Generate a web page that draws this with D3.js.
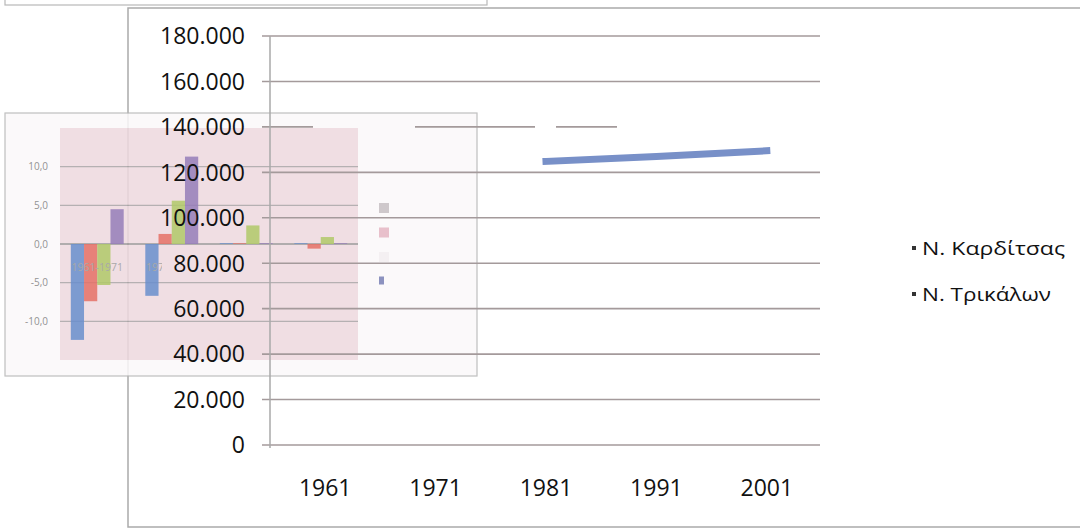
<!DOCTYPE html>
<html>
<head>
<meta charset="utf-8">
<script src="https://cdn.jsdelivr.net/npm/d3@7"></script>
<style>
  html, body { margin: 0; padding: 0; background: #fff; }
  svg { display: block; }
</style>
</head>
<body>
<div id="chart"></div>
<script>
// main chart data
const years = ['1961', '1971', '1981', '1991', '2001'];
const karditsaValues = [null, null, 124800, 127000, 129500];
const legendLabels = ['N. Καρδίτσας', 'N. Τρικάλων'];
const yTicks = [0, 20000, 40000, 60000, 80000, 100000, 120000, 140000, 160000, 180000];

// inset (background) bar chart data
const insetPeriods = ['1961-1971', '1971-1981', '1981-1991', '1991-2001'];
const insetBlue = [-12.4, -6.7, 0.1, 0.1];
const insetRed = [-7.4, 1.3, 0.1, -0.6];
const insetGreen = [-5.3, 5.6, 2.4, 0.9];
const insetPurple = [4.5, 11.3, 0.1, 0.1];
const insetTicks = [-10, -5, 0, 5, 10];

const W = 1080, H = 531;
const svg = d3.select('#chart').append('svg')
    .attr('width', W)
    .attr('height', H);

// Rahmen oben links (anderes Diagramm)
svg.append('rect')
    .attr('x', 5).attr('y', -10)
    .attr('width', 482).attr('height', 15)
    .attr('fill', 'none')
    .attr('stroke', '#b8b8b8')
    .attr('stroke-width', 1.2);

// Rahmen Hauptdiagramm
svg.append('rect')
    .attr('x', 128).attr('y', 8)
    .attr('width', 980).attr('height', 519)
    .attr('fill', '#fff')
    .attr('stroke', '#aaaaaa')
    .attr('stroke-width', 1.5);

// ---------- Inset ----------
const inset = svg.append('g').attr('opacity', 0.85);

inset.append('rect')
    .attr('x', 5).attr('y', 113)
    .attr('width', 472).attr('height', 263)
    .attr('fill', '#fbf9fa')
    .attr('stroke', '#b5b5b5')
    .attr('stroke-width', 1.2);

const ix = d3.scaleBand()
    .domain(insetPeriods)
    .range([60, 358])
    .paddingInner(0.29)
    .paddingOuter(0.145);

const iy = d3.scaleLinear()
    .domain([-15, 15])
    .range([360, 128]);

inset.append('rect')
    .attr('x', 60).attr('y', iy(15))
    .attr('width', 298).attr('height', iy(-15) - iy(15))
    .attr('fill', '#eed9df');

inset.selectAll('.igrid')
    .data(insetTicks)
    .join('line')
    .attr('x1', 60).attr('x2', 358)
    .attr('y1', d => iy(d)).attr('y2', d => iy(d))
    .attr('stroke', d => d === 0 ? '#8a8a8a' : '#a9a3a5')
    .attr('stroke-width', d => d === 0 ? 1.5 : 1.2);

inset.selectAll('.itick')
    .data(insetTicks)
    .join('text')
    .attr('x', 48)
    .attr('y', d => iy(d))
    .attr('dy', '0.35em')
    .attr('text-anchor', 'end')
    .style('font-family', 'Open Sans, sans-serif')
    .style('font-size', '10px')
    .style('fill', '#808080')
    .text(d => d3.format('.1f')(d).replace('.', ',').replace('−', '-'));

const insetSeries = [
    { values: insetBlue, color: '#4f7bc4', swatch: '#c6bfc3' },
    { values: insetRed, color: '#e0584c', swatch: '#e4b6c2' },
    { values: insetGreen, color: '#a3c04f', swatch: '#f3eef0' },
    { values: insetPurple, color: '#8466ad', swatch: '#7880b4' }
];

const ixInner = d3.scaleBand()
    .domain(d3.range(insetSeries.length))
    .range([0, ix.bandwidth()]);

insetSeries.forEach((s, si) => {
    inset.selectAll('.bar' + si)
        .data(s.values)
        .join('rect')
        .attr('x', (d, i) => ix(insetPeriods[i]) + ixInner(si))
        .attr('y', d => iy(Math.max(0, d)))
        .attr('width', ixInner.bandwidth())
        .attr('height', d => Math.abs(iy(d) - iy(0)))
        .attr('fill', s.color)
        .attr('opacity', 0.85);
});

// Kategorien (nur die ersten zwei sichtbar, zweite abgeschnitten)
inset.append('clipPath')
    .attr('id', 'catclip')
    .append('rect')
    .attr('x', 60).attr('y', 250).attr('width', 102).attr('height', 30);

inset.append('g')
    .attr('clip-path', 'url(#catclip)')
    .selectAll('text')
    .data(insetPeriods.slice(0, 2))
    .join('text')
    .attr('x', d => ix(d) + ix.bandwidth() / 2)
    .attr('y', iy(0) + 23)
    .attr('dy', '0.35em')
    .attr('text-anchor', 'middle')
    .style('font-family', 'Open Sans, sans-serif')
    .style('font-size', '10.5px')
    .style('fill', '#9a9a9a')
    .text(d => d);

// Legende Inset (verblasst)
inset.selectAll('.ileg')
    .data(insetSeries)
    .join('rect')
    .attr('x', 379)
    .attr('y', (d, i) => 203 + i * 24.5)
    .attr('width', (d, i) => i === 3 ? 5 : 10)
    .attr('height', (d, i) => i === 3 ? 8 : 10)
    .attr('fill', d => d.swatch);

// ---------- Hauptdiagramm ----------
const x = d3.scaleBand()
    .domain(years)
    .range([270, 822]);

const y = d3.scaleLinear()
    .domain([0, 180000])
    .range([445, 36]);

const fmt = d => d === 0 ? '0' : d3.format(',')(d).replace(/,/g, '.');

svg.selectAll('.grid')
    .data(yTicks)
    .join('line')
    .attr('x1', 262).attr('x2', 820)
    .attr('y1', d => y(d)).attr('y2', d => y(d))
    .attr('stroke', '#a49a9b')
    .attr('stroke-width', 1.6)
    .attr('stroke-dasharray', d => d === 140000 ? '51,102,120,21,61,1000' : null);

svg.append('line')
    .attr('x1', 270).attr('x2', 270)
    .attr('y1', y(180000)).attr('y2', y(0) + 3)
    .attr('stroke', '#a8a8a8')
    .attr('stroke-width', 1.5);

svg.selectAll('.ylab')
    .data(yTicks)
    .join('text')
    .attr('x', 245)
    .attr('y', d => y(d))
    .attr('dy', '0.36em')
    .attr('text-anchor', 'end')
    .style('font-family', 'Open Sans, sans-serif')
    .style('font-size', '23px')
    .style('fill', '#111')
    .text(fmt);

svg.selectAll('.xlab')
    .data(years)
    .join('text')
    .attr('x', d => x(d) + x.bandwidth() / 2)
    .attr('y', 488)
    .attr('dy', '0.36em')
    .attr('text-anchor', 'middle')
    .style('font-family', 'Open Sans, sans-serif')
    .style('font-size', '23px')
    .style('fill', '#111')
    .text(d => d);

const line = d3.line()
    .defined(d => d.v !== null)
    .x(d => x(d.year) + x.bandwidth() / 2)
    .y(d => y(d.v));

svg.append('path')
    .datum(years.map((yr, i) => ({ year: yr, v: karditsaValues[i] })))
    .attr('d', line)
    .attr('fill', 'none')
    .attr('stroke', '#7890c8')
    .attr('stroke-width', 7)
    .attr('stroke-linecap', 'square');

// Legende
const leg = svg.append('g');
legendLabels.forEach((lab, i) => {
    const ly = 248 + i * 46;
    leg.append('rect')
        .attr('x', 912).attr('y', ly - 2)
        .attr('width', 4).attr('height', 4)
        .attr('fill', '#333');
    leg.append('text')
        .attr('x', 922)
        .attr('y', ly)
        .attr('dy', '0.36em')
        .attr('textLength', i === 0 ? 143 : 129)
        .attr('lengthAdjust', 'spacingAndGlyphs')
        .style('font-family', 'Open Sans, sans-serif')
        .style('font-size', '18.5px')
        .style('fill', '#111')
        .text(lab);
});
</script>
</body>
</html>
